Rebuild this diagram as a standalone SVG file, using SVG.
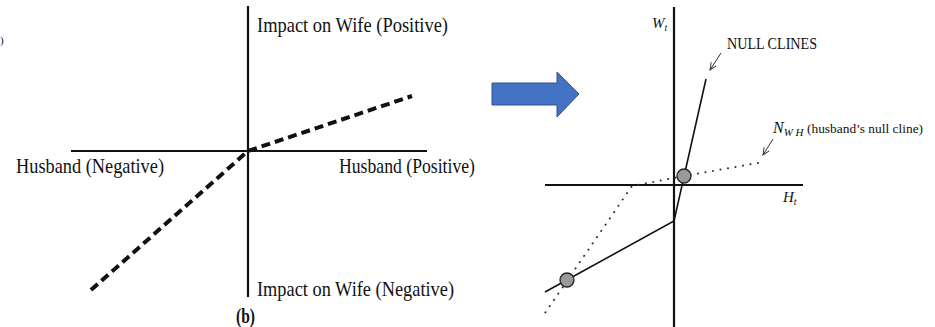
<svg xmlns="http://www.w3.org/2000/svg" width="935" height="327" viewBox="0 0 935 327">
<style>
.t{font-family:"Liberation Serif","Times New Roman",serif;fill:#111}
.ax{stroke:#111;stroke-width:2.2;fill:none}
.sl{stroke:#111;stroke-width:1.6;fill:none}
.dt{stroke:#333;stroke-width:2;fill:none;stroke-dasharray:0.1 7.5;stroke-linecap:round}
.ds{stroke:#111;stroke-width:4;fill:none;stroke-dasharray:9 5}
.eq{fill:#999;stroke:#222;stroke-width:1.3}
.lab{stroke:#333;stroke-width:1;fill:none}
</style>
<defs>
<marker id="open" viewBox="0 0 10 10" refX="9" refY="5" markerWidth="8" markerHeight="8" orient="auto" markerUnits="userSpaceOnUse">
<polyline points="0,1 9,5 0,9" fill="none" stroke="#333" stroke-width="1.2"/>
</marker>
</defs>
<rect width="935" height="327" fill="#fff"/>
<text class="t" x="0" y="44" font-size="11" fill="#666">)</text>

<g id="panel-b">
<g id="axes-b">
<line class="ax" x1="248" y1="6" x2="248" y2="297"/>
<line class="ax" x1="71" y1="151" x2="427" y2="151"/>
</g>
<g id="labels-b">
<text class="t" x="257" y="32" font-size="21" textLength="191" lengthAdjust="spacingAndGlyphs">Impact on Wife (Positive)</text>
<text class="t" x="16" y="173" font-size="21" textLength="148" lengthAdjust="spacingAndGlyphs">Husband (Negative)</text>
<text class="t" x="339" y="173" font-size="21" textLength="136" lengthAdjust="spacingAndGlyphs">Husband (Positive)</text>
<text class="t" x="257" y="296" font-size="21" textLength="197" lengthAdjust="spacingAndGlyphs">Impact on Wife (Negative)</text>
<text class="t" x="236" y="323" font-size="20" font-weight="bold" textLength="19" lengthAdjust="spacingAndGlyphs">(b)</text>
</g>
</g>

<g id="arrow-transition">
<polygon points="492,83 557,83 557,72 579,94 557,117 557,105 492,105" fill="#4472C4" stroke="#2F528F" stroke-width="1"/>
</g>

<g id="panel-right">
<g id="axes-r">
<line class="ax" x1="674" y1="7" x2="674" y2="327"/>
<line class="ax" x1="545" y1="185" x2="803" y2="185"/>
<text class="t" x="652" y="28" font-size="15" font-style="italic">W<tspan font-size="10" dy="3">t</tspan></text>
<text class="t" x="783" y="202" font-size="15" font-style="italic">H<tspan font-size="10" dy="3">t</tspan></text>
</g>
<g id="connectors">
<polyline class="ds" points="91,290 248,151 412,96"/>
<polyline class="sl" points="706,79 674,221 545,292"/>
<polyline class="dt" points="758,163 684,176 632,186 545,313"/>
<line class="lab" x1="721" y1="53" x2="710" y2="70" marker-end="url(#open)"/>
<line class="lab" x1="773" y1="139" x2="763" y2="155" marker-end="url(#open)"/>
</g>
<g id="eq-upper"><circle class="eq" cx="684" cy="176" r="7"/></g>
<g id="eq-lower"><circle class="eq" cx="567" cy="280" r="7"/></g>
<g id="label-null">
<text class="t" x="727" y="49" font-size="16" textLength="90" lengthAdjust="spacingAndGlyphs">NULL CLINES</text>
</g>
<g id="label-nwh">
<text class="t" x="773" y="133" font-size="16" font-style="italic">N<tspan font-size="11" dy="3">W H</tspan></text>
<text class="t" x="807" y="133" font-size="13.4">(husband’s null cline)</text>
</g>
</g>
</svg>
